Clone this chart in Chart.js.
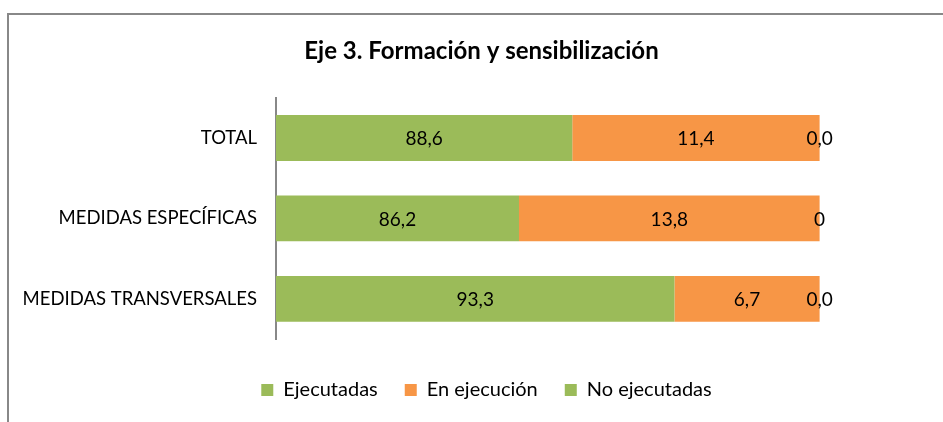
<!DOCTYPE html>
<html>
<head>
<meta charset="utf-8">
<script src="https://cdn.jsdelivr.net/npm/chart.js@4"></script>
<style>
  html, body { margin: 0; padding: 0; background: #fff; }
  #wrap { position: relative; width: 943px; height: 422px; }
</style>
</head>
<body>
<div id="wrap"><canvas id="grafico" width="943" height="422"></canvas></div>
<script>
const categorias = ['TOTAL', 'MEDIDAS ESPECÍFICAS', 'MEDIDAS TRANSVERSALES'];
const series = ['Ejecutadas', 'En ejecución', 'No ejecutadas'];

// ancho de cada tramo tal como se ve en la barra (100 = barra completa)
const ejecutadas = [54.5, 44.7, 73.3];
const enEjecucion = [45.5, 55.3, 26.7];
const noEjecutadas = [0, 0, 0];

// textos impresos sobre cada tramo
const etqEjecutadas = ['88,6', '86,2', '93,3'];
const etqEnEjecucion = ['11,4', '13,8', '6,7'];
const etqNoEjecutadas = ['0,0', '0', '0,0'];

const colores = ['#9BBB59', '#F79646', '#9BBB59'];
const fuente = 'Lato';

const marco = {
  id: 'marco',
  beforeDraw(chart) {
    const ctx = chart.ctx;
    ctx.save();
    ctx.fillStyle = '#fff';
    ctx.fillRect(0, 0, chart.width, chart.height);
    ctx.strokeStyle = '#888';
    ctx.lineWidth = 2;
    ctx.beginPath();
    ctx.moveTo(7, 14);
    ctx.lineTo(chart.width, 14);
    ctx.moveTo(8, 13);
    ctx.lineTo(8, chart.height);
    ctx.stroke();
    ctx.restore();
  }
};

// el título y la leyenda van algo a la derecha del centro del lienzo
const desplazar = {
  id: 'desplazar',
  afterLayout(chart) {
    chart.titleBlock.left += 6;
    chart.titleBlock.right += 6;
    chart.legend.left += 11;
    chart.legend.right += 11;
  }
};

const etiquetas = {
  id: 'etiquetas',
  afterDatasetsDraw(chart) {
    const ctx = chart.ctx;
    ctx.save();
    ctx.font = '19px ' + fuente;
    ctx.fillStyle = '#000';
    ctx.textAlign = 'center';
    ctx.textBaseline = 'middle';
    chart.data.datasets.forEach((ds, i) => {
      chart.getDatasetMeta(i).data.forEach((bar, j) => {
        ctx.fillText(ds.etiquetas[j], (bar.x + bar.base) / 2, bar.y + 1);
      });
    });
    ctx.restore();
  }
};

new Chart(document.getElementById('grafico'), {
  type: 'bar',
  data: {
    labels: categorias,
    datasets: [
      { label: series[0], data: ejecutadas, etiquetas: etqEjecutadas, backgroundColor: colores[0] },
      { label: series[1], data: enEjecucion, etiquetas: etqEnEjecucion, backgroundColor: colores[1] },
      { label: series[2], data: noEjecutadas, etiquetas: etqNoEjecutadas, backgroundColor: colores[2] }
    ]
  },
  options: {
    indexAxis: 'y',
    responsive: false,
    animation: false,
    layout: { padding: { left: 8, right: 0, top: 0, bottom: 12 } },
    datasets: {
      bar: { barPercentage: 0.57, categoryPercentage: 1, borderWidth: 0 }
    },
    scales: {
      x: {
        stacked: true,
        min: 0,
        max: 122.7,
        ticks: { display: false },
        grid: { display: false },
        border: { display: false },
        afterFit(scale) { scale.height = 14; }
      },
      y: {
        stacked: true,
        grid: { display: false },
        border: { display: true, color: '#888', width: 2 },
        ticks: { padding: 11, color: '#000', font: { family: fuente, size: 18.5 } },
        afterFit(scale) { scale.width = 268; }
      }
    },
    plugins: {
      title: {
        display: true,
        text: 'Eje 3. Formación y sensibilización',
        color: '#000',
        font: { family: fuente, size: 24, weight: 'bold', lineHeight: 1.2 },
        padding: { top: 37, bottom: 32 }
      },
      legend: {
        position: 'bottom',
        labels: {
          boxWidth: 12,
          boxHeight: 12,
          padding: 27,
          color: '#000',
          font: { family: fuente, size: 20 }
        }
      },
      tooltip: { enabled: false }
    }
  },
  plugins: [marco, desplazar, etiquetas]
});
</script>
</body>
</html>
